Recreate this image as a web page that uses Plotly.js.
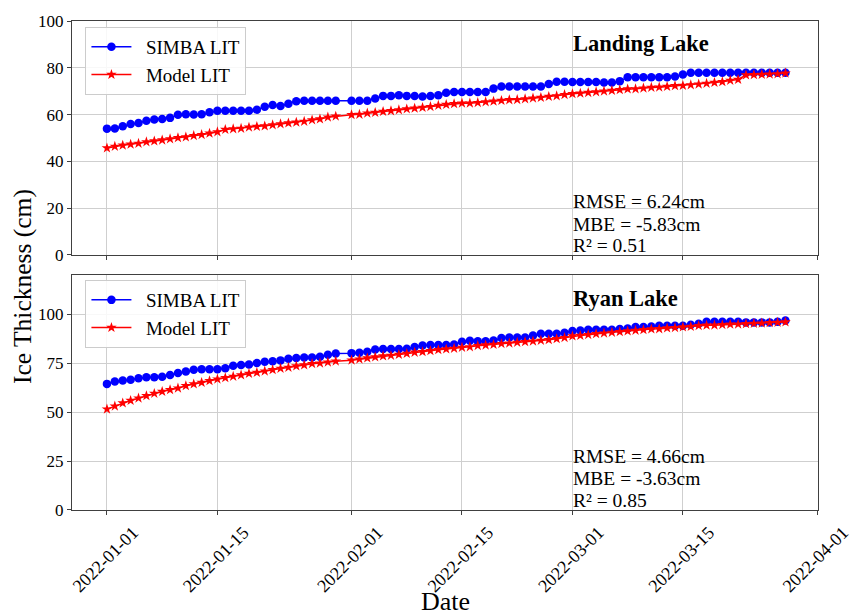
<!DOCTYPE html>
<html>
<head>
<meta charset="utf-8">
<script src="https://cdn.plot.ly/plotly-3.0.1.min.js"></script>
<style>
  html, body { margin: 0; padding: 0; background: #ffffff; }
  #chart { width: 851px; height: 615px; }
</style>
</head>
<body>
<div id="chart"></div>
<script>
// ---- Data ----
const dates = [
  "2022-01-01","2022-01-02","2022-01-03","2022-01-04","2022-01-05","2022-01-06","2022-01-07","2022-01-08","2022-01-09","2022-01-10",
  "2022-01-11","2022-01-12","2022-01-13","2022-01-14","2022-01-15","2022-01-16","2022-01-17","2022-01-18","2022-01-19","2022-01-20",
  "2022-01-21","2022-01-22","2022-01-23","2022-01-24","2022-01-25","2022-01-26","2022-01-27","2022-01-28","2022-01-29","2022-01-30",
  "2022-02-01","2022-02-02","2022-02-03","2022-02-04","2022-02-05","2022-02-06","2022-02-07","2022-02-08","2022-02-09","2022-02-10",
  "2022-02-11","2022-02-12","2022-02-13","2022-02-14","2022-02-15","2022-02-16","2022-02-17","2022-02-18","2022-02-19","2022-02-20",
  "2022-02-21","2022-02-22","2022-02-23","2022-02-24","2022-02-25","2022-02-26","2022-02-27","2022-02-28",
  "2022-03-01","2022-03-02","2022-03-03","2022-03-04","2022-03-05","2022-03-06","2022-03-07","2022-03-08","2022-03-09","2022-03-10",
  "2022-03-11","2022-03-12","2022-03-13","2022-03-14","2022-03-15","2022-03-16","2022-03-17","2022-03-18","2022-03-19","2022-03-20",
  "2022-03-21","2022-03-22","2022-03-23","2022-03-24","2022-03-25","2022-03-26","2022-03-27","2022-03-28"
];

const landingSimba = [
  54, 54.1, 55, 56, 56.4, 57.4, 57.9, 58.1, 58.6, 59.9, 60.1, 60, 60.1, 61, 61.6, 61.6, 61.6, 61.6, 61.6, 62.1,
  63.4, 64.1, 63.7, 64.6, 65.7, 65.9, 65.9, 65.9, 65.9, 65.9,
  65.9, 65.9, 65.9, 66.9, 68, 68, 68.3, 68, 67.9, 67.7, 67.9, 68.3, 69.3, 69.7, 69.7, 69.7, 69.7, 69.7, 71.1, 72,
  72, 72, 72, 72, 72, 73.1, 74, 74,
  73.9, 73.9, 73.9, 73.9, 73.7, 73.7, 74.3, 76, 76, 76, 76, 76, 76, 76.3, 77.1, 77.9, 77.9, 77.9, 77.9, 77.9,
  77.9, 77.9, 77.9, 77.9, 77.9, 77.9, 77.9, 77.9
];
const landingModel = [
  45.7, 46.4, 46.9, 47.3, 47.7, 48.3, 48.7, 49.1, 49.6, 50.1, 50.4, 51, 51.4, 52, 52.6, 53.6, 53.9, 54.1, 54.6, 54.9,
  55.1, 55.6, 56, 56.4, 56.7, 57.1, 57.7, 58.1, 58.9, 59.3,
  59.9, 60.1, 60.6, 60.9, 61.3, 61.6, 62, 62.4, 62.7, 63, 63.4, 63.9, 64.3, 64.6, 64.9, 64.9, 65.1, 65.4, 65.7, 66,
  66.3, 66.4, 66.7, 67, 67.3, 67.7, 68, 68.5,
  68.9, 69.1, 69.4, 69.7, 70, 70.3, 70.6, 70.9, 71, 71.3, 71.6, 71.7, 72, 72.3, 72.4, 72.7, 73, 73.3, 73.7, 74,
  74.6, 75, 76.9, 77, 77.1, 77.3, 77.4, 77.7
];

const ryanSimba = [
  64.4, 65.6, 66.1, 66.5, 67.3, 67.8, 67.8, 68, 68.9, 69.9, 70.7, 71.6, 71.9, 71.9, 71.9, 72.4, 73.6, 74, 74.3, 75,
  75.7, 75.9, 76.4, 77.2, 77.6, 77.9, 77.9, 78.2, 79.3, 79.9,
  80.1, 80.3, 80.8, 82, 82.2, 82.2, 82.2, 82.3, 83.2, 84, 84.2, 84.2, 84.2, 84.5, 85.9, 86.4, 86.2, 86.2, 86.6, 87.8,
  88.1, 88.1, 88.1, 89.1, 90, 90, 90, 90.5,
  91.4, 91.7, 92, 92, 92, 92, 92.4, 92.7, 93.4, 93.4, 93.7, 94.1, 94.1, 94.1, 94.1, 94.6, 95.1, 96.1, 96.1, 96.1,
  96.1, 96.1, 95.8, 95.8, 95.8, 95.8, 96.1, 96.8
];
const ryanModel = [
  51.5, 53, 54.6, 55.9, 57.1, 58.3, 59.5, 60.5, 61.4, 62.2, 63.4, 64.3, 65.1, 66, 66.8, 67.5, 68.2, 68.9, 69.7, 70.2,
  70.9, 71.6, 72.3, 72.8, 73.5, 74, 74.7, 75, 75.5, 76,
  76.5, 77, 77.6, 78.1, 78.6, 78.9, 79.4, 79.9, 80.5, 80.8, 81.3, 81.8, 82.2, 82.5, 83, 83.3, 83.9, 84.2, 84.5, 84.9,
  85.2, 85.6, 85.9, 86.2, 86.6, 86.9, 87.4, 88,
  88.8, 89.1, 89.5, 90, 90.3, 90.7, 91, 91.4, 91.7, 92, 92.4, 92.5, 92.9, 93.1, 93.4, 93.7, 94.1, 94.3, 94.4, 94.6,
  94.8, 94.9, 95.1, 95.3, 95.4, 95.6, 95.8, 96
];

const xTickVals = ["2022-01-01","2022-01-15","2022-02-01","2022-02-15","2022-03-01","2022-03-15","2022-04-01"];
const xTickText = ["2022-01-01","2022-01-15","2022-02-01","2022-02-15","2022-03-01","2022-03-15","2022-04-01"];
const topYTicks = [0, 20, 40, 60, 80, 100];
const bottomYTicks = [0, 25, 50, 75, 100];

const seriesNames = ["SIMBA LIT", "Model LIT"];
const lakeNames = ["Landing Lake", "Ryan Lake"];
const landingStats = ["RMSE = 6.24cm", "MBE = -5.83cm", "R\u00b2 = 0.51"];
const ryanStats = ["RMSE = 4.66cm", "MBE = -3.63cm", "R\u00b2 = 0.85"];

// ---- Styling ----
const FONT = "'Liberation Serif', 'Times New Roman', serif";
const BLUE = "#0000ff";
const RED = "#ff0000";
const GRID = "#cfcfcf";
const SPINE = "#404040";
const PAD = "\u00a0\u00a0";

function simbaTrace(y, xa, ya, leg) {
  return {
    x: dates, y: y, xaxis: xa, yaxis: ya, legend: leg,
    name: PAD + seriesNames[0], type: "scatter", mode: "lines+markers",
    line: { color: BLUE, width: 1.5 },
    marker: { color: BLUE, size: 8.5, symbol: "circle" }
  };
}
function modelTrace(y, xa, ya, leg) {
  return {
    x: dates, y: y, xaxis: xa, yaxis: ya, legend: leg,
    name: PAD + seriesNames[1], type: "scatter", mode: "lines+markers",
    line: { color: RED, width: 1.5 },
    marker: { color: RED, size: 8, symbol: "star" }
  };
}

const traces = [
  simbaTrace(landingSimba, "x", "y", "legend"),
  modelTrace(landingModel, "x", "y", "legend"),
  simbaTrace(ryanSimba, "x2", "y2", "legend2"),
  modelTrace(ryanModel, "x2", "y2", "legend2")
];

const xRange = ["2021-12-27 13:40", "2022-04-01 03:00"];

const commonX = {
  type: "date", range: xRange, tickmode: "array", tickvals: xTickVals,
  ticks: "outside", ticklen: 4, tickcolor: SPINE, tickwidth: 1,
  showgrid: true, gridcolor: GRID, gridwidth: 1,
  showline: true, linecolor: SPINE, linewidth: 1, mirror: true,
  zeroline: false, fixedrange: true
};
const commonY = {
  ticks: "outside", ticklen: 4, tickcolor: SPINE, tickwidth: 1,
  showgrid: true, gridcolor: GRID, gridwidth: 1,
  showline: true, linecolor: SPINE, linewidth: 1, mirror: true,
  zeroline: false, tickfont: { family: FONT, size: 17, color: "#000" },
  tickmode: "array"
};

const legendCommon = {
  font: { family: FONT, size: 19, color: "#000" },
  bgcolor: "rgba(255,255,255,0.85)", bordercolor: "#cccccc", borderwidth: 1,
  xanchor: "left", yanchor: "top", x: 0.018, itemwidth: 40, tracegroupgap: 0
};

function ann(text, x, y, size, bold, extra) {
  return Object.assign({
    text: bold ? "<b>" + text + "</b>" : text,
    xref: "paper", yref: "paper", x: x, y: y,
    xanchor: "left", yanchor: "middle", showarrow: false,
    font: { family: FONT, size: size, color: "#000" }
  }, extra || {});
}

const statX = 0.6695;
const annotations = [
  ann(lakeNames[0], statX, 0.953, 22.5, true),
  ann(landingStats[0], statX, 0.6299, 19.5, false),
  ann(landingStats[1], statX, 0.5834, 19.5, false),
  ann(landingStats[2], statX, 0.5399, 19.5, false),
  ann(lakeNames[1], statX, 0.4315, 22.5, true),
  ann(ryanStats[0], statX, 0.1090, 19.5, false),
  ann(ryanStats[1], statX, 0.0634, 19.5, false),
  ann(ryanStats[2], statX, 0.0194, 19.5, false),
  ann("Ice Thickness (cm)", -0.067, 0.456, 25.5, false, { xanchor: "center", textangle: -90 }),
  ann("Date", 0.5, -0.188, 26, false, { xanchor: "center" })
];

const layout = {
  width: 851, height: 615,
  margin: { l: 72, r: 33, t: 21, b: 105, pad: 0 },
  paper_bgcolor: "#ffffff", plot_bgcolor: "#ffffff",
  font: { family: FONT, color: "#000" },
  showlegend: true,
  xaxis: Object.assign({}, commonX, { anchor: "y", showticklabels: false, matches: "x2" }),
  xaxis2: Object.assign({}, commonX, {
    anchor: "y2", ticktext: xTickText, tickangle: -45,
    tickfont: { family: FONT, size: 18, color: "#000" },
    ticklabelshift: 26, ticklabelstandoff: 0, ticklabeloverflow: "allow"
  }),
  yaxis: Object.assign({}, commonY, { anchor: "x", domain: [0.5215, 1], range: [0, 100], tickvals: topYTicks }),
  yaxis2: Object.assign({}, commonY, { anchor: "x2", domain: [0, 0.4806], range: [0, 120], tickvals: bottomYTicks }),
  legend: Object.assign({}, legendCommon, { y: 0.9877 }),
  legend2: Object.assign({}, legendCommon, { y: 0.4703 }),
  annotations: annotations
};

Plotly.newPlot("chart", traces, layout, { displayModeBar: false, staticPlot: true });
</script>
</body>
</html>
